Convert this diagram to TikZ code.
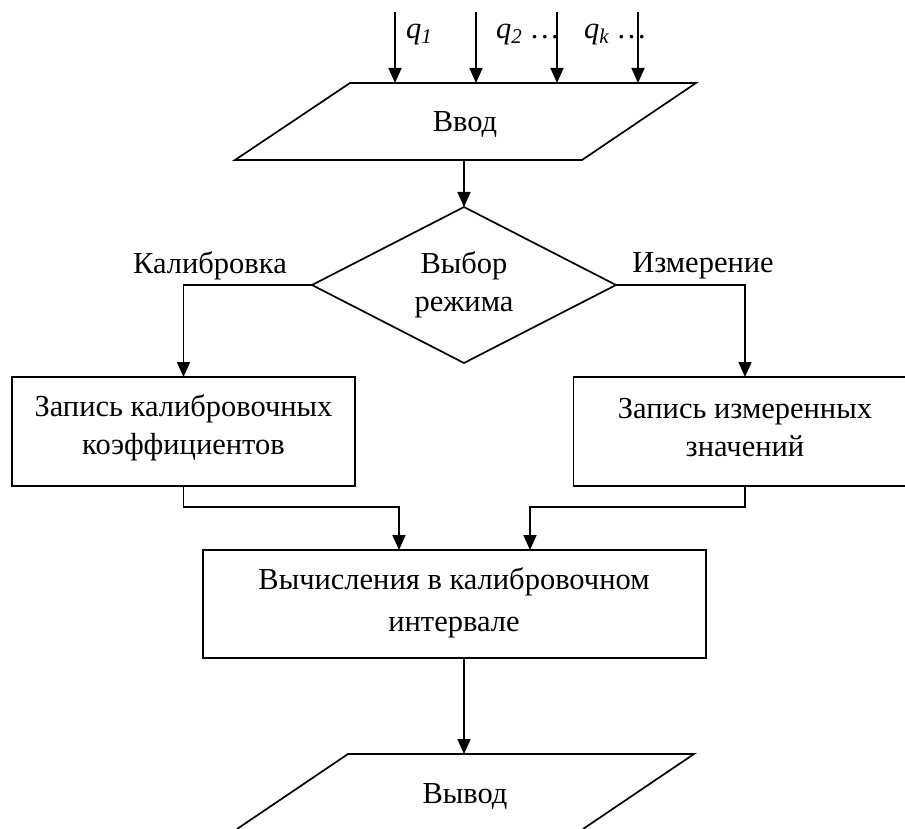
\documentclass[tikz,border=0pt]{standalone}
\usepackage{fontspec}
\setmainfont{Liberation Serif}
\usetikzlibrary{arrows.meta,shapes.geometric}
\begin{document}
\begin{tikzpicture}[x=1pt,y=-1pt,
  every node/.style={font=\fontsize{30.5}{38}\selectfont},
  ln/.style={line width=1.7pt},
  arr/.style={ln,-{Triangle[length=15pt,width=13pt]}},
  blk/.style={draw,ln,rectangle,minimum width=343pt,minimum height=109pt,align=center,inner sep=0pt,outer sep=0pt},
  dia/.style={draw,ln,diamond,aspect=2,minimum width=304pt,minimum height=156pt,align=center,inner sep=0pt,outer sep=0pt},
  txt/.style={inner sep=0pt,align=center},
  qlab/.style={inner sep=0pt,anchor=base west}]
\useasboundingbox (0,0) rectangle (905,829);
% input parallelogram
\draw[ln] (350,83) -- (696,83) -- (582,160) -- (235,160) -- cycle;
\node[txt] (in) at (465,124) {Ввод};
\coordinate (t1) at (395,83);
\coordinate (t2) at (476,83);
\coordinate (t3) at (557,83);
\coordinate (t4) at (638,83);
\coordinate (s1) at (395,12);
\coordinate (s2) at (476,12);
\coordinate (s3) at (557,12);
\coordinate (s4) at (638,12);
\foreach \i in {1,2,3,4} \draw[arr] (s\i) -- (t\i);
\newcommand{\qsub}[1]{{\fontsize{21}{21}\selectfont\raisebox{-5pt}{\itshape #1}}}
\node[qlab] (q1) at (406,39) {\itshape q\qsub{1}};
\node[qlab] (q2) at (496,39) {\itshape q\qsub{2}\upshape\ \ldots};
\node[qlab] (qk) at (584,39) {\itshape q\qsub{k}\upshape\ \ldots};
\coordinate (inb) at (464,160);
% decision
\node[dia] (sel) at (464,285) {Выбор\\режима};
\draw[arr] (inb) -- (sel.north);
\node[txt] (lcal) at (210,266) {Калибровка};
\node[txt] (lmes) at (703,266) {Измерение};
% boxes
\node[blk] (cal) at (183.5,431.5) {};
\node[txt] (calt) at (183.5,428) {Запись калибровочных\\коэффициентов};
\node[blk] (mes) at (745,431.5) {};
\node[txt] (mest) at (745,428) {Запись измеренных\\значений};
\draw[arr] (sel.west) -| (cal.north);
\draw[arr] (sel.east) -| (mes.north);
\node[blk,minimum width=503pt,minimum height=108pt] (calc) at (454.5,604) {};
\node[txt,font=\fontsize{30.5}{42}\selectfont] (calct) at (454,603) {Вычисления в калибровочном\\интервале};
\coordinate (cin1) at (399,550);
\coordinate (cin2) at (530,550);
\draw[arr] (cal.south) -- ++(0,21) -| (cin1);
\draw[arr] (mes.south) -- ++(0,21) -| (cin2);
% output
\coordinate (cout) at (464,658);
\coordinate (ot) at (464,754);
\draw[arr] (cout) -- (ot);
\draw[ln] (237,829) -- (348,754) -- (694,754) -- (583,829);
\node[txt] (out) at (465,796) {Вывод};
\end{tikzpicture}
\end{document}
